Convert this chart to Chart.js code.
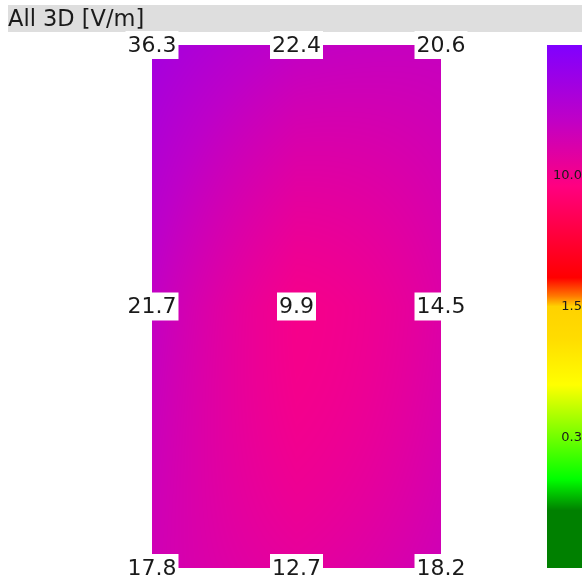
<!DOCTYPE html>
<html>
<head>
<meta charset="utf-8">
<script src="https://cdn.jsdelivr.net/npm/chart.js"></script>
<style>
    html, body { margin: 0; padding: 0; background: #fff; }
    #wrap { position: relative; width: 582px; height: 581px; }
</style>
</head>
<body>
<div id="wrap"><canvas id="chart"></canvas></div>
<script>
// measured field values on a 3x3 grid [V/m], rows top -> bottom
const gridCols = [0, 1, 2];
const gridRows = [0, 1, 2];
const rowTop = [36.3, 22.4, 20.6];
const rowMiddle = [21.7, 9.9, 14.5];
const rowBottom = [17.8, 12.7, 18.2];

// colour scale: boundary values top -> bottom and the printed tick labels
const colorbarValues = [68, 10, 1.5, 0.3, 0.05];
const colorbarLabels = ['10.0', '1.5', '0.3'];
const colorbarTicks = [1, 2, 3];

const titleText = 'All 3D [V/m]';
const FONT = "'DejaVu Sans', sans-serif";

const gridValues = [rowTop, rowMiddle, rowBottom];

const colorStops = [
    [0.00, [128, 0, 255]],
    [0.14, [190, 0, 200]],
    [0.27, [255, 0, 128]],
    [0.445, [255, 0, 0]],
    [0.48, [255, 120, 0]],
    [0.50, [255, 210, 0]],
    [0.56, [255, 220, 0]],
    [0.65, [255, 255, 0]],
    [0.83, [0, 255, 0]],
    [0.89, [0, 128, 0]],
    [1.00, [0, 128, 0]],
];

function fractionForValue(v) {
    const lv = Math.log(v);
    const n = colorbarValues.length - 1;
    if (lv >= Math.log(colorbarValues[0])) return 0;
    for (let i = 0; i < n; i++) {
        const a = Math.log(colorbarValues[i]), b = Math.log(colorbarValues[i + 1]);
        if (lv <= a && lv >= b) return (i + (a - lv) / (a - b)) / n;
    }
    return 1;
}

function colorForFraction(f) {
    for (let i = 0; i < colorStops.length - 1; i++) {
        const [f0, c0] = colorStops[i], [f1, c1] = colorStops[i + 1];
        if (f <= f1) {
            const t = (f - f0) / (f1 - f0);
            return c0.map((c, k) => Math.round(c + (c1[k] - c) * t));
        }
    }
    return colorStops[colorStops.length - 1][1];
}

// blend of quadratic lagrange and linear weights through nodes 0,1,2
function weights(t) {
    const q = [(t - 1) * (t - 2) / 2, -t * (t - 2), t * (t - 1) / 2];
    const l = t < 1 ? [1 - t, t, 0] : [0, 2 - t, t - 1];
    return q.map((w, i) => 0.5 * w + 0.5 * l[i]);
}

function interpolate(cx, cy) {
    const wx = weights(cx), wy = weights(cy);
    let s = 0;
    for (let r = 0; r < 3; r++)
        for (let c = 0; c < 3; c++)
            s += wy[r] * wx[c] * Math.log(gridValues[r][c]);
    return Math.exp(s);
}

const heatmapPlugin = {
    id: 'heatmap',
    beforeDraw(chart) {
        const ctx = chart.ctx;
        const tb = chart.titleBlock;
        ctx.save();
        ctx.fillStyle = '#dedede';
        ctx.fillRect(tb.left, tb.top, tb.right - tb.left, 27);

        // colour bar
        const area = chart.chartArea;
        const cb = chart.scales.cb;
        const top = cb.getPixelForValue(0), bottom = cb.getPixelForValue(4);
        const grad = ctx.createLinearGradient(0, top, 0, bottom);
        colorStops.forEach(([f, c]) => grad.addColorStop(f, 'rgb(' + c.join(',') + ')'));
        ctx.fillStyle = grad;
        ctx.fillRect(area.right + 106, top, chart.width, bottom - top);
        ctx.restore();
    },
    beforeDatasetsDraw(chart) {
        const { ctx, chartArea: a, scales: { x, y } } = chart;
        const left = Math.round(a.left), top = Math.round(a.top);
        const w = Math.round(a.right) - left, h = Math.round(a.bottom) - top;
        const img = ctx.createImageData(w, h);
        for (let j = 0; j < h; j++) {
            const cy = y.getValueForPixel(top + j + 0.5);
            for (let i = 0; i < w; i++) {
                const cx = x.getValueForPixel(left + i + 0.5);
                const col = colorForFraction(fractionForValue(interpolate(cx, cy)));
                const p = (j * w + i) * 4;
                img.data[p] = col[0];
                img.data[p + 1] = col[1];
                img.data[p + 2] = col[2];
                img.data[p + 3] = 255;
            }
        }
        ctx.putImageData(img, left, top);
    },
    afterDatasetsDraw(chart) {
        const ctx = chart.ctx;
        const meta = chart.getDatasetMeta(0);
        ctx.save();
        ctx.font = '22px ' + FONT;
        ctx.textAlign = 'center';
        ctx.textBaseline = 'middle';
        meta.data.forEach((pt, i) => {
            const label = chart.data.datasets[0].data[i].v.toFixed(1);
            const tw = ctx.measureText(label).width;
            ctx.fillStyle = '#fff';
            ctx.fillRect(pt.x - tw / 2 - 2, pt.y - 14, tw + 4, 28);
            ctx.fillStyle = '#1a1a1a';
            ctx.fillText(label, pt.x, pt.y + 1);
        });
        ctx.restore();
    }
};

const points = [];
gridRows.forEach(r => gridCols.forEach(c => points.push({ x: c, y: r, v: gridValues[r][c] })));

new Chart(document.getElementById('chart'), {
    type: 'scatter',
    data: {
        datasets: [{
            data: points,
            pointRadius: 0,
            pointHoverRadius: 0,
        }]
    },
    options: {
        responsive: true,
        maintainAspectRatio: false,
        animation: false,
        layout: { padding: { left: 8, right: 0, top: 5, bottom: 13 } },
        plugins: {
            legend: { display: false },
            tooltip: { enabled: false },
            title: {
                display: true,
                text: titleText,
                align: 'start',
                color: '#1a1a1a',
                font: { family: FONT, size: 22.5, weight: 'normal', lineHeight: '27px' },
                padding: { top: 2, bottom: 11 },
            },
        },
        scales: {
            x: { type: 'linear', min: 0, max: 2, display: false },
            y: {
                type: 'linear', min: 0, max: 2, reverse: true, position: 'left',
                ticks: { display: false },
                grid: { display: false },
                border: { display: false },
                afterFit(s) { s.width = 144; s.paddingTop = 0; s.paddingBottom = 0; },
            },
            cb: {
                type: 'linear', min: 0, max: 4, reverse: true, position: 'right',
                grid: { display: false },
                border: { display: false },
                afterBuildTicks(s) { s.ticks = colorbarTicks.map(v => ({ value: v })); },
                ticks: {
                    autoSkip: false,
                    padding: 112,
                    crossAlign: 'far',
                    color: '#1a1a1a',
                    font: { family: FONT, size: 13 },
                    callback: (v, i) => colorbarLabels[i],
                },
                afterFit(s) { s.width = 141; s.paddingTop = 0; s.paddingBottom = 0; },
            },
        },
    },
    plugins: [heatmapPlugin],
});
</script>
</body>
</html>
